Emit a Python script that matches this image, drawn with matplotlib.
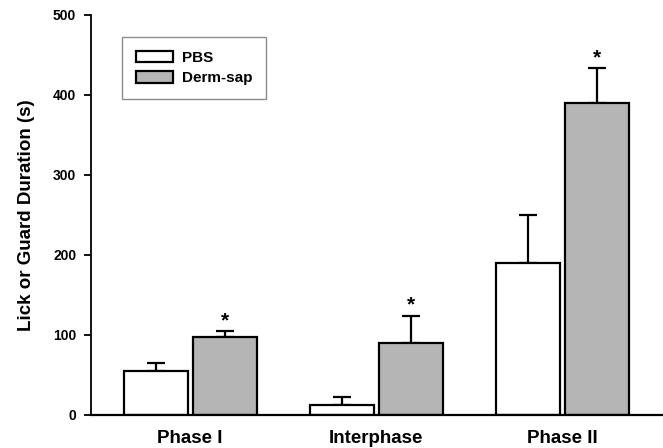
import matplotlib
matplotlib.use("Agg")
import matplotlib.pyplot as plt
import numpy as np

# Lick/guard durations per phase (mean and SEM)
phases = ["Phase I", "Interphase", "Phase II"]
pbs_mean = [55, 12.5, 190]
pbs_sem = [10, 10, 60]
derm_mean = [97, 90, 390]
derm_sem = [8, 34, 43]
significant = [True, True, True]
y_ticks = [0, 100, 200, 300, 400, 500]

plt.rcParams["font.family"] = ["Liberation Sans", "DejaVu Sans"]
plt.rcParams["font.weight"] = "bold"

fig = plt.figure(figsize=(6.63, 4.48), dpi=100)
ax = fig.add_axes([0.138, 0.074, 0.862, 0.893])

x = np.arange(len(phases))
width = 0.344
offset = 0.185
lw = 1.6

ax.bar(x - offset, pbs_mean, width, color="white", edgecolor="black",
       linewidth=lw, label="PBS", zorder=2)
ax.bar(x + offset, derm_mean, width, color="#b5b5b5", edgecolor="black",
       linewidth=lw, label="Derm-sap", zorder=2)

# upper-only error bars
ax.errorbar(x - offset, pbs_mean, yerr=[np.zeros(3), pbs_sem], fmt="none",
            ecolor="black", elinewidth=lw, capsize=6.5, capthick=lw, zorder=1)
ax.errorbar(x + offset, derm_mean, yerr=[np.zeros(3), derm_sem], fmt="none",
            ecolor="black", elinewidth=lw, capsize=6.5, capthick=lw, zorder=1)

for xi, m, s, sig in zip(x + offset, derm_mean, derm_sem, significant):
    if sig:
        ax.text(xi, m + s + 1, "*", ha="center", va="bottom",
                fontsize=15, fontweight="bold")

ax.set_xlim(-0.53, 2.54)
ax.set_ylim(0, 500)
ax.set_yticks(y_ticks)
ax.set_yticklabels([str(t) for t in y_ticks], fontsize=10, fontweight="bold")
ax.set_xticks(x)
ax.set_xticklabels(phases, fontsize=13.5, fontweight="bold")
ax.tick_params(axis="x", length=0, pad=11)
ax.tick_params(axis="y", length=5, width=1.3, direction="out", pad=6)

ax.spines["top"].set_visible(False)
ax.spines["right"].set_visible(False)
ax.spines["left"].set_linewidth(1.3)
ax.spines["bottom"].set_linewidth(1.6)

ax.set_ylabel("Lick or Guard Duration (s)", fontsize=13.5, fontweight="bold",
              labelpad=13)

leg = ax.legend(loc="upper left", bbox_to_anchor=(122 / 663, 1 - 37 / 448),
                bbox_transform=fig.transFigure, fontsize=11, frameon=True,
                fancybox=False, handlelength=2.42, handleheight=0.79,
                handletextpad=0.6, labelspacing=0.42, borderpad=0.9,
                borderaxespad=0)
leg.get_frame().set_edgecolor("#707070")
leg.get_frame().set_linewidth(1.0)
for t in leg.get_texts():
    t.set_fontweight("bold")

fig.savefig("out.png", dpi=100)
